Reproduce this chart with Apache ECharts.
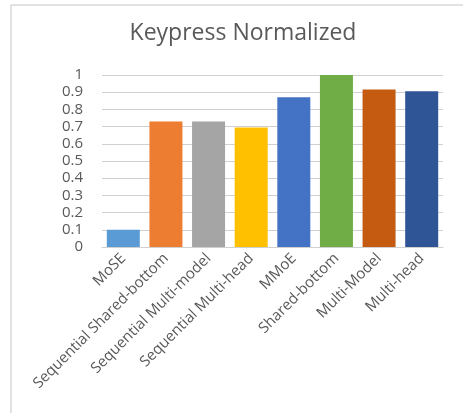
<!DOCTYPE html>
<html>
<head>
<meta charset="utf-8">
<script src="https://cdn.jsdelivr.net/npm/echarts@6/dist/echarts.min.js"></script>
<style>
    html,body{margin:0;padding:0;background:#fff;}
    #echarts-main{width:463px;height:413px;}
</style>
</head>
<body>
<div id="echarts-main"></div>
<script>
    // 数据
    const categories = ['MoSE', 'Sequential Shared-bottom', 'Sequential Multi-model', 'Sequential Multi-head',
        'MMoE', 'Shared-bottom', 'Multi-Model', 'Multi-head']
    const values = [0.1, 0.73, 0.73, 0.695, 0.87, 1.0, 0.915, 0.905]
    const barColors = ['#5B9BD5', '#ED7D31', '#A5A5A5', '#FFC000', '#4472C4', '#70AD47', '#C55A11', '#2F5597']
    const yTicks = [0, 0.1, 0.2, 0.3, 0.4, 0.5, 0.6, 0.7, 0.8, 0.9, 1]

    const myChart = echarts.init(document.getElementById('echarts-main'))

    const option = {
        animation: false,
        title: {
            text: 'Keypress Normalized',
            left: 238,
            textAlign: 'center',
            top: 17,
            textStyle: {
                fontFamily: 'Open Sans',
                fontSize: 23,
                fontWeight: 'normal',
                color: '#595959'
            }
        },
        // 外框 (上边和左边)
        graphic: [
            { type: 'line', shape: { x1: 11, y1: 5, x2: 463, y2: 5 }, style: { stroke: '#d9d9d9', lineWidth: 1.5 } },
            { type: 'line', shape: { x1: 11, y1: 5, x2: 11, y2: 413 }, style: { stroke: '#d9d9d9', lineWidth: 1.5 } }
        ],
        grid: {
            left: 102,
            right: 20,
            top: 75,
            bottom: 166
        },
        xAxis: {
            type: 'category',
            data: categories,
            axisTick: { show: false },
            axisLine: { lineStyle: { color: '#d0d0d0', width: 1 } },
            axisLabel: {
                rotate: 45,
                interval: 0,
                margin: 9,
                fontFamily: 'Open Sans',
                fontSize: 15,
                color: '#595959'
            }
        },
        yAxis: {
            type: 'value',
            min: 0,
            max: 1,
            interval: 0.1,
            axisLine: { show: false },
            axisTick: { show: false },
            splitLine: { lineStyle: { color: '#d0d0d0', width: 1 } },
            axisLabel: {
                margin: 19,
                fontFamily: 'Open Sans',
                fontSize: 15,
                color: '#595959',
                formatter: function (val) {
                    const t = yTicks.find(v => Math.abs(v - val) < 1e-6)
                    return t === undefined ? '' : String(t)
                }
            }
        },
        series: [
            {
                type: 'bar',
                data: values.map((v, i) => ({ value: v, itemStyle: { color: barColors[i] } })),
                barWidth: 33
            }
        ]
    }

    myChart.setOption(option)
</script>
</body>
</html>
